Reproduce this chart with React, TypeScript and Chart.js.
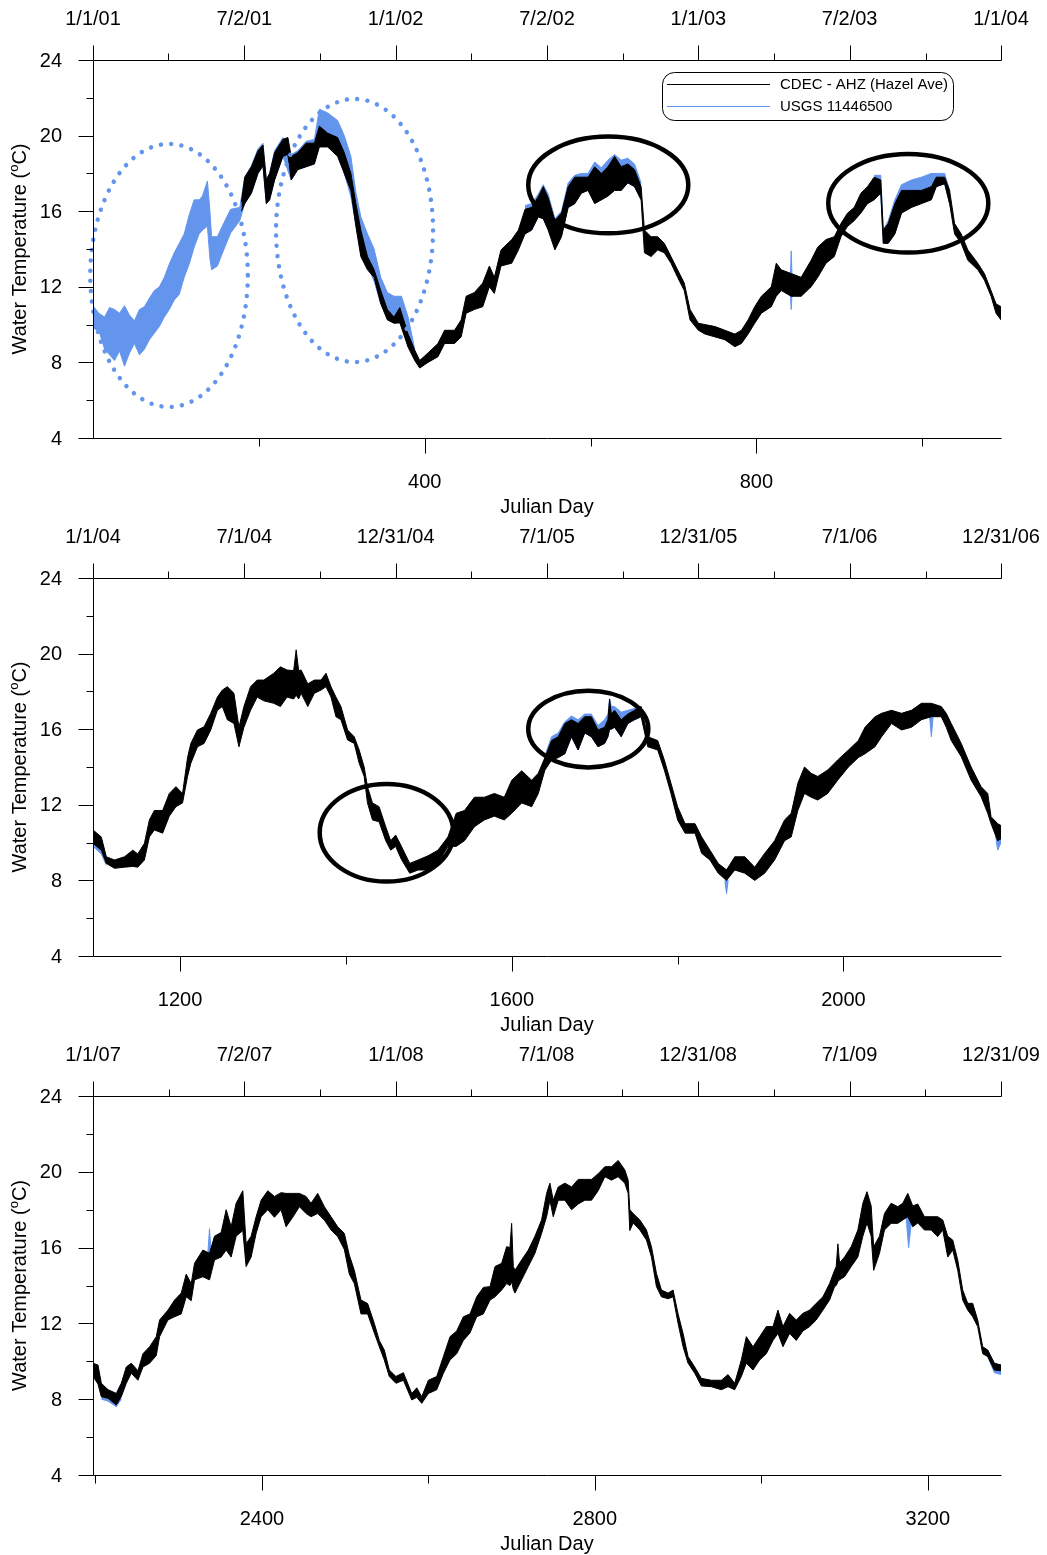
import React, { useEffect, useRef } from 'react';
import { Chart, registerables } from 'chart.js';

Chart.register(...registerables);

const BLUE = '#6495ED';
const FONT = '"Liberation Sans", Arial, sans-serif';

// ---------- DATA: [julianDay, low, high] envelope of the hourly record ----------
const P1_CDEC: [number, number, number][] = [
  [179,16.0,16.5],[183,16.4,17.8],[191,16.95,18.35],[199,18.0,19.2],[205,18.4,19.5],[209,16.4,17.65],[213,16.6,18.0],[219,17.65,19.1],
  [229,18.9,19.8],[235,19.0,19.9],[239,17.65,18.9],[247,18.2,19.1],[257,18.35,19.6],[267,18.5,19.6],[273,19.4,20.5],[283,19.4,20.13],
  [295,18.9,19.9],[303,18.0,19.1],[311,17.1,18.0],[317,15.2,16.4],[323,13.6,15.0],[331,12.9,13.6],[339,12.5,12.9],[347,11.1,11.8],
  [355,10.25,10.8],[363,10.07,10.4],[370,10.1,10.9],[380,8.8,9.5],[388,8.1,8.65],[394,7.7,8.1],[404,8.0,8.5],[416,8.3,9.0],
  [424,9.0,9.7],[436,9.0,9.7],[444,9.35,10.25],[450,10.6,11.5],[460,10.8,11.7],[470,10.95,12.2],[478,12.0,13.1],[484,11.65,12.5],
  [492,13.1,13.95],[505,13.25,14.5],[513,13.95,15.0],[521,14.8,16.1],[529,15.0,16.2],[537,15.7,16.77],[543,15.6,17.3],[549,15.0,16.7],
  [557,13.95,15.5],[565,14.65,15.9],[573,16.2,17.3],[581,16.4,17.8],[589,16.95,17.8],[597,17.1,17.8],[605,16.4,18.35],[613,16.6,18.0],
  [621,16.8,18.35],[629,17.1,18.9],[637,17.1,18.35],[645,17.5,18.5],[653,17.3,18.2],[661,16.6,17.3],[665,13.8,15.0],[673,13.6,14.65],
  [681,13.95,14.65],[689,13.8,14.3],[697,13.25,13.6],[705,12.5,12.9],[713,11.8,12.2],[720,10.25,10.8],[730,9.7,10.07],[738,9.5,10.0],
  [750,9.35,9.9],[762,9.2,9.7],[774,8.83,9.5],[782,9.0,9.7],[790,9.5,10.25],[798,10.07,10.95],[806,10.6,11.5],[818,10.95,12.0],
  [824,11.5,13.25],[830,11.8,12.9],[842,11.5,12.7],[854,11.5,12.5],[866,12.0,13.4],[874,12.5,14.1],[884,13.25,14.5],[894,13.6,14.65],
  [902,14.65,15.35],[910,15.2,15.9],[918,15.5,16.2],[926,15.9,16.95],[934,16.4,17.3],[942,16.6,17.8],[950,16.95,17.65],[953,14.3,15.0],
  [959,14.3,15.35],[967,14.8,16.4],[975,15.9,17.1],[987,16.2,17.1],[999,16.4,17.1],[1011,16.6,17.3],[1017,17.3,17.8],[1027,17.45,17.8],
  [1033,16.4,17.1],[1039,14.8,15.35],[1047,14.3,14.8],[1055,13.4,13.95],[1067,12.9,13.25],[1075,12.35,12.7],[1083,11.5,11.8],[1089,10.6,11.1],
  [1095,10.25,10.95],
];

// USGS record: only the stretches where it shows from under the CDEC trace
const P1_USGS: [number, number, number][][] = [
  [
    [0,9.8,11.0],[7,9.7,10.6],[14,8.7,10.4],[20,8.4,10.9],[26,8.1,10.8],[32,8.6,10.6],[38,7.8,11.0],[44,8.5,10.5],[50,9.0,10.2],
    [56,8.4,10.8],[62,8.7,10.95],[68,9.2,11.4],[74,9.55,11.8],[80,9.9,12.0],[86,10.4,12.5],[92,10.8,13.2],[98,11.3,13.8],[104,11.6,14.3],
    [110,12.5,14.8],[116,13.2,15.8],[122,14.1,16.6],[128,14.8,16.6],[132,15.0,16.8],[138,15.2,17.6],[141,13.5,16.0],[143,12.9,14.65],
    [150,13.1,14.65],[158,14.0,15.4],[166,14.85,16.1],[177,15.5,16.2],[183,16.4,17.8],[191,16.95,18.4],[199,18.0,19.3],[205,18.4,19.6],
    [209,16.4,17.7],[213,16.6,18.0],[219,17.65,19.2],[229,18.9,19.9],[239,17.65,19.0],[247,18.2,19.2],[257,18.35,19.7],[267,18.5,19.8],
    [273,19.6,21.4],[283,19.8,21.2],[295,19.2,20.8],[303,18.0,20.0],[311,16.77,18.9],[317,15.3,17.0],[323,13.95,15.7],[331,13.1,14.8],
    [339,12.3,14.0],[347,11.1,12.5],[355,10.8,11.7],[363,10.1,11.5],[372,10.07,11.5],[380,9.7,10.4],[388,8.1,8.7],
  ],
  [
    [521,14.8,16.3],[529,15.0,16.4],[537,15.7,16.9],[543,15.6,17.4],[549,15.0,16.9],[557,14.0,15.6],[565,14.7,16.0],[573,16.2,17.5],
    [581,16.4,17.9],[589,17.0,18.0],[597,17.1,18.0],[605,16.5,18.6],[613,16.6,18.3],[621,16.8,18.7],[629,17.1,19.0],[637,17.1,18.7],
    [645,17.5,18.8],[653,17.3,18.5],[661,16.6,17.5],
  ],
  [[841,11.6,12.6],[842,10.8,13.9],[843,11.6,12.6]],
  [
    [942,16.6,17.9],[950,17.0,17.9],[953,14.3,15.0],[959,14.3,15.5],[967,14.8,16.6],[975,15.9,17.4],[987,16.2,17.65],[999,16.6,17.8],
    [1011,16.8,18.0],[1017,17.3,18.0],[1027,17.45,18.0],[1033,16.4,17.1],
  ],
];

const P2_CDEC: [number, number, number][] = [
  [1095,9.96,10.67],[1105,9.6,10.3],[1111,8.9,9.25],[1121,8.64,9.08],[1133,8.7,9.25],[1143,8.74,9.6],[1149,8.7,9.4],[1157,9.08,9.96],
  [1163,10.3,11.2],[1169,10.67,11.7],[1179,10.5,11.7],[1187,11.4,12.6],[1195,11.9,12.96],[1203,12.1,12.6],[1209,13.5,14.5],[1213,14.2,15.25],
  [1221,15.07,15.96],[1229,15.25,16.13],[1237,15.96,16.84],[1245,17.0,17.7],[1251,17.2,18.07],[1257,16.5,18.25],[1265,16.3,17.9],[1271,15.07,16.1],
  [1277,16.1,17.2],[1285,17.0,18.25],[1293,17.7,18.6],[1301,17.5,18.6],[1313,17.37,18.96],[1321,17.2,19.3],[1329,17.7,19.13],[1337,17.6,19.1],
  [1340,17.8,20.2],[1343,17.6,19.1],[1346,17.9,19.13],[1354,17.2,18.4],[1362,17.9,18.6],[1370,18.07,18.6],[1376,18.25,18.96],[1382,17.7,18.25],
  [1388,16.66,17.7],[1394,16.5,17.2],[1402,15.43,15.96],[1410,15.25,15.6],[1416,14.2,14.9],[1422,13.5,14.0],[1426,12.1,12.96],[1432,11.2,12.1],
  [1440,11.1,11.9],[1448,10.1,10.84],[1454,9.6,10.1],[1460,9.8,10.4],[1467,9.1,9.8],[1477,8.38,8.9],[1487,8.55,9.08],[1499,8.55,9.3],
  [1511,8.9,9.6],[1523,9.8,10.3],[1533,9.8,11.55],[1543,10.1,11.7],[1555,10.84,12.4],[1567,11.2,12.4],[1579,11.4,12.6],[1591,11.2,12.4],
  [1600,11.55,13.3],[1612,12.1,13.8],[1624,11.9,13.3],[1632,12.6,13.67],[1640,13.84,14.5],[1648,14.37,15.4],[1656,14.5,15.6],[1664,14.7,16.3],
  [1672,15.6,16.5],[1680,14.9,16.3],[1688,15.8,16.66],[1696,15.6,16.66],[1704,15.07,15.96],[1712,15.25,16.1],[1716,15.6,16.5],[1718,16.0,17.6],
  [1720,16.0,16.8],[1724,16.1,17.0],[1732,15.6,16.5],[1740,16.3,16.8],[1748,16.5,17.0],[1756,16.66,17.2],[1764,15.07,15.6],[1776,14.9,15.4],
  [1784,13.84,14.37],[1792,12.6,13.14],[1800,11.2,11.9],[1809,10.5,11.0],[1821,10.5,11.0],[1829,9.43,10.3],[1839,9.08,9.6],[1849,8.38,8.9],
  [1859,8.0,8.55],[1869,8.55,9.25],[1881,8.38,9.25],[1893,8.0,8.7],[1905,8.38,9.43],[1917,9.08,10.1],[1929,10.1,11.2],[1937,10.3,11.55],
  [1945,11.7,13.14],[1953,12.6,14.0],[1961,12.4,13.67],[1969,12.25,13.5],[1981,12.6,13.84],[1993,13.3,14.37],[2006,14.0,14.9],[2018,14.5,15.4],
  [2026,14.7,16.1],[2038,15.07,16.66],[2046,15.6,16.84],[2058,16.3,17.0],[2070,15.96,16.84],[2082,16.1,17.0],[2094,16.5,17.37],[2106,16.66,17.37],
  [2118,16.66,17.2],[2124,16.1,16.84],[2130,15.4,16.3],[2142,14.55,15.25],[2154,13.3,14.0],[2166,12.43,12.96],[2174,11.55,12.6],[2178,11.0,11.37],
  [2186,10.1,11.0],[2190,10.2,10.9],
];

const P2_USGS: [number, number, number][][] = [
  [[1095,9.8,10.5],[1105,9.4,10.2],[1111,8.8,9.25]],
  [
    [1640,13.84,14.6],[1648,14.37,15.6],[1656,14.5,15.8],[1664,14.7,16.4],[1672,15.6,16.7],[1680,14.9,16.5],[1688,15.8,16.8],[1696,15.6,16.8],
    [1704,15.07,16.2],[1712,15.25,16.5],[1716,15.6,16.8],[1718,16.0,17.6],[1720,16.0,17.2],[1724,16.1,17.2],[1732,15.6,16.9],[1740,16.3,17.0],
    [1748,16.5,17.1],[1756,16.66,17.2],
  ],
  [[1857,8.0,8.6],[1859,7.3,8.6],[1861,8.0,8.6]],
  [[2104,16.6,17.3],[2106,15.6,17.3],[2108,16.6,17.3]],
  [[2182,10.8,11.2],[2186,9.6,11.0],[2190,10.0,10.8]],
];

const P3_CDEC: [number, number, number][] = [
  [2197,9.2,9.9],[2203,8.8,9.8],[2207,8.13,8.84],[2215,8.05,8.5],[2225,7.7,8.3],[2231,8.13,8.84],[2237,8.84,9.7],[2243,9.37,9.9],
  [2251,9.0,9.5],[2257,9.7,10.4],[2265,9.9,10.77],[2273,10.3,11.3],[2277,11.3,12.18],[2287,12.18,12.7],[2295,12.35,13.23],[2303,12.5,13.6],
  [2309,13.4,14.6],[2315,13.2,14.1],[2319,14.3,15.17],[2329,14.46,15.87],[2337,14.3,15.7],[2343,15.35,16.6],[2351,15.5,16.8],[2357,15.87,18.0],
  [2363,15.5,17.1],[2369,16.6,18.34],[2377,16.9,19.0],[2381,15.0,16.2],[2387,15.5,16.6],[2393,16.75,17.63],[2399,17.63,18.5],[2407,18.0,19.0],
  [2415,17.6,18.7],[2423,18.0,18.9],[2429,17.1,18.86],[2437,17.6,18.86],[2445,18.16,18.86],[2453,17.8,18.7],[2459,17.63,18.34],[2467,17.8,18.86],
  [2475,17.45,18.16],[2483,16.93,17.63],[2491,16.58,17.1],[2499,15.9,16.75],[2505,14.6,15.6],[2511,14.1,14.8],[2519,12.5,13.23],[2527,12.5,13.05],
  [2535,11.5,12.0],[2541,10.77,11.1],[2547,10.07,10.6],[2553,9.2,9.54],[2561,8.84,9.2],[2570,9.0,9.4],[2580,7.96,8.3],[2586,8.1,8.6],
  [2592,7.78,8.13],[2600,8.3,9.0],[2610,8.5,9.2],[2618,9.37,10.25],[2626,10.07,11.3],[2634,10.4,11.6],[2642,11.1,12.35],[2650,11.5,12.5],
  [2658,12.35,13.4],[2666,12.5,13.9],[2674,13.23,13.94],[2680,13.4,15.0],[2688,13.76,15.17],[2694,14.1,16.05],[2698,14.0,16.0],[2700,14.2,17.28],
  [2702,13.8,15.0],[2704,13.6,14.8],[2712,14.3,15.35],[2720,15.0,15.87],[2728,15.7,16.6],[2736,16.75,17.46],[2742,17.63,18.86],[2746,18.5,19.4],
  [2750,17.63,18.5],[2756,18.5,19.2],[2764,18.5,19.4],[2772,18.0,19.2],[2780,18.3,19.6],[2788,18.5,19.6],[2796,18.5,19.6],[2804,19.0,19.9],
  [2812,19.74,20.27],[2820,19.56,20.27],[2828,19.74,20.6],[2836,19.4,20.1],[2840,18.86,19.56],[2842,16.9,18.0],[2846,17.3,17.8],[2854,16.93,17.46],
  [2862,16.4,16.93],[2868,15.5,16.05],[2874,13.94,14.64],[2880,13.4,13.76],[2888,13.3,13.6],[2894,13.4,13.76],[2900,12.0,12.5],[2906,10.77,11.47],
  [2912,9.9,10.25],[2920,9.37,9.7],[2928,8.7,9.1],[2940,8.66,9.0],[2952,8.5,9.0],[2960,8.66,9.3],[2968,8.5,8.84],[2976,9.2,10.07],
  [2982,9.9,11.3],[2990,9.54,10.77],[2998,10.07,11.3],[3006,10.4,11.83],[3014,11.1,11.83],[3020,11.47,12.7],[3026,10.77,11.83],[3034,11.47,12.53],
  [3042,11.1,12.18],[3050,11.6,12.53],[3058,11.83,12.7],[3066,12.18,13.06],[3074,12.7,13.4],[3082,13.23,14.1],[3088,13.94,14.8],[3090,14.0,15.0],
  [3092,14.2,16.2],[3094,14.3,15.2],[3100,14.46,15.5],[3108,15.0,16.05],[3116,15.5,16.93],[3122,16.6,18.34],[3127,17.3,18.95],[3132,16.6,18.2],
  [3135,14.8,16.05],[3142,15.7,16.6],[3148,16.93,17.8],[3156,17.28,18.34],[3164,17.28,18.16],[3170,17.46,18.34],[3176,17.63,18.86],[3182,17.1,18.2],
  [3188,17.3,18.3],[3196,16.93,17.63],[3204,16.93,17.63],[3212,16.58,17.63],[3218,16.93,17.46],[3224,15.5,16.6],[3230,15.87,16.4],[3236,14.8,15.35],
  [3242,13.23,13.76],[3248,12.7,13.06],[3254,12.35,13.06],[3260,11.83,12.18],[3266,10.4,10.77],[3272,10.25,10.6],[3280,9.54,9.9],[3288,9.5,9.8],
];

const P3_USGS: [number, number, number][][] = [
  [[2207,8.0,8.84],[2215,7.9,8.5],[2225,7.6,8.3],[2231,8.0,8.84]],
  [[2335,14.3,15.7],[2337,14.5,17.0],[2339,14.5,15.7]],
  [[3174,17.6,18.5],[3177,16.0,18.5],[3180,17.2,18.2]],
  [[3272,10.25,10.6],[3280,9.4,9.9],[3288,9.3,9.8]],
];

// ---------- AXES ----------
const Y_MAJOR = [4, 8, 12, 16, 20, 24];
const Y_MINOR = [6, 10, 14, 18, 22];

const P1_RANGE = [0, 1095];
const P2_RANGE = [1095, 2190];
const P3_RANGE = [2197, 3288];

const P1_BOTTOM_MAJOR = [400, 800];
const P1_BOTTOM_MINOR = [200, 600, 1000];
const P2_BOTTOM_MAJOR = [1200, 1600, 2000];
const P2_BOTTOM_MINOR = [1400, 1800];
const P3_BOTTOM_MAJOR = [2400, 2800, 3200];
const P3_BOTTOM_MINOR = [2200, 2600, 3000];

const P1_TOP_DAYS = [0, 182.5, 365, 547.5, 730, 912.5, 1095];
const P1_TOP_LABELS = ['1/1/01', '7/2/01', '1/1/02', '7/2/02', '1/1/03', '7/2/03', '1/1/04'];
const P1_TOP_MINOR = [91, 274, 456, 639, 821, 1004];
const P2_TOP_DAYS = [1095, 1277.5, 1460, 1642.5, 1825, 2007.5, 2190];
const P2_TOP_LABELS = ['1/1/04', '7/1/04', '12/31/04', '7/1/05', '12/31/05', '7/1/06', '12/31/06'];
const P2_TOP_MINOR = [1186, 1369, 1551, 1734, 1916, 2099];
const P3_TOP_DAYS = [2197, 2379, 2561, 2742, 2924, 3106, 3288];
const P3_TOP_LABELS = ['1/1/07', '7/2/07', '1/1/08', '7/1/08', '12/31/08', '7/1/09', '12/31/09'];
const P3_TOP_MINOR = [2288, 2470, 2651, 2833, 3015, 3197];

// ---------- ANNOTATIONS (ellipses: centre day, centre temp, radius days, radius temp) ----------
const P1_DOTTED = [[91.7, 12.6, 95, 6.96], [315.4, 14.98, 94.7, 6.96]];
const P1_SOLID = [[621.4, 17.39, 96.5, 2.56], [983.2, 16.42, 96.5, 2.61]];
const P2_SOLID = [[1449, 10.52, 80.6, 2.58], [1692.3, 16.01, 72.4, 2.03]];

const LEGEND_ITEMS = [
  { label: 'CDEC - AHZ (Hazel Ave)', color: '#000000' },
  { label: 'USGS 11446500', color: BLUE },
];

type Row = [number, number, number];
type Panel = {
  range: number[];
  cdec: Row[];
  usgs: Row[][];
  bMajor: number[];
  bMinor: number[];
  tDays: number[];
  tLabels: string[];
  tMinor: number[];
  dotted: number[][];
  solid: number[][];
  legend: boolean;
  top: number;
  height: number;
};

const PANELS: Panel[] = [
  { range: P1_RANGE, cdec: P1_CDEC, usgs: P1_USGS, bMajor: P1_BOTTOM_MAJOR, bMinor: P1_BOTTOM_MINOR, tDays: P1_TOP_DAYS, tLabels: P1_TOP_LABELS, tMinor: P1_TOP_MINOR, dotted: P1_DOTTED, solid: P1_SOLID, legend: true, top: 0, height: 518 },
  { range: P2_RANGE, cdec: P2_CDEC, usgs: P2_USGS, bMajor: P2_BOTTOM_MAJOR, bMinor: P2_BOTTOM_MINOR, tDays: P2_TOP_DAYS, tLabels: P2_TOP_LABELS, tMinor: P2_TOP_MINOR, dotted: [], solid: P2_SOLID, legend: false, top: 518, height: 518 },
  { range: P3_RANGE, cdec: P3_CDEC, usgs: P3_USGS, bMajor: P3_BOTTOM_MAJOR, bMinor: P3_BOTTOM_MINOR, tDays: P3_TOP_DAYS, tLabels: P3_TOP_LABELS, tMinor: P3_TOP_MINOR, dotted: [], solid: [], legend: false, top: 1036, height: 519 },
];

function makeDecor(p: Panel) {
  return {
    id: 'decor',
    afterDraw(chart: any) {
      const { ctx, chartArea: a, scales } = chart;
      const xs = scales.x;
      const ys = scales.y;
      const L = Math.round(a.left) + 0.5;
      const T = Math.round(a.top) + 0.5;
      const B = Math.round(a.bottom) + 0.5;
      const R = Math.round(a.right) + 0.5;
      ctx.save();

      const drawEll = (e: number[], dotted: boolean) => {
        const cx = xs.getPixelForValue(e[0]);
        const cy = ys.getPixelForValue(e[1]);
        const rx = Math.abs(xs.getPixelForValue(e[0] + e[2]) - cx);
        const ry = Math.abs(ys.getPixelForValue(e[1] + e[3]) - cy);
        ctx.beginPath();
        ctx.ellipse(cx, cy, rx, ry, 0, 0, Math.PI * 2);
        if (dotted) {
          ctx.strokeStyle = BLUE;
          ctx.lineWidth = 4.5;
          ctx.lineCap = 'round';
          ctx.setLineDash([0.01, 10.3]);
        } else {
          ctx.strokeStyle = '#000';
          ctx.lineWidth = 4.5;
          ctx.lineCap = 'butt';
          ctx.setLineDash([]);
        }
        ctx.stroke();
      };
      p.dotted.forEach((e) => drawEll(e, true));
      p.solid.forEach((e) => drawEll(e, false));
      ctx.setLineDash([]);
      ctx.lineCap = 'butt';

      ctx.strokeStyle = '#000';
      ctx.lineWidth = 1;
      ctx.beginPath();
      ctx.moveTo(L, T); ctx.lineTo(L, B);
      ctx.moveTo(L, T); ctx.lineTo(R, T);
      ctx.moveTo(L, B); ctx.lineTo(R, B);
      ctx.stroke();

      ctx.fillStyle = '#000';
      ctx.font = `20px ${FONT}`;

      ctx.beginPath();
      Y_MAJOR.forEach((v) => {
        const py = Math.round(ys.getPixelForValue(v)) + 0.5;
        ctx.moveTo(L - 15, py); ctx.lineTo(L, py);
      });
      Y_MINOR.forEach((v) => {
        const py = Math.round(ys.getPixelForValue(v)) + 0.5;
        ctx.moveTo(L - 7, py); ctx.lineTo(L, py);
      });
      p.bMajor.forEach((v) => {
        const px = Math.round(xs.getPixelForValue(v)) + 0.5;
        ctx.moveTo(px, B); ctx.lineTo(px, B + 15);
      });
      p.bMinor.forEach((v) => {
        const px = Math.round(xs.getPixelForValue(v)) + 0.5;
        ctx.moveTo(px, B); ctx.lineTo(px, B + 8);
      });
      p.tDays.forEach((v) => {
        const px = Math.round(xs.getPixelForValue(v)) + 0.5;
        ctx.moveTo(px, T); ctx.lineTo(px, T - 15);
      });
      p.tMinor.forEach((v) => {
        const px = Math.round(xs.getPixelForValue(v)) + 0.5;
        ctx.moveTo(px, T); ctx.lineTo(px, T - 7);
      });
      ctx.stroke();

      ctx.textAlign = 'right';
      ctx.textBaseline = 'middle';
      Y_MAJOR.forEach((v) => {
        ctx.fillText(String(v), a.left - 31, ys.getPixelForValue(v) + 1);
      });
      ctx.textAlign = 'center';
      p.bMajor.forEach((v) => {
        ctx.fillText(String(v), xs.getPixelForValue(v), a.bottom + 44);
      });
      ctx.fillText('Julian Day', (a.left + a.right) / 2, a.bottom + 69);
      p.tDays.forEach((v, i) => {
        ctx.fillText(p.tLabels[i], xs.getPixelForValue(v), a.top - 41);
      });

      ctx.save();
      ctx.translate(20, (a.top + a.bottom) / 2);
      ctx.rotate(-Math.PI / 2);
      const t1 = 'Water Temperature (';
      const t2 = 'C)';
      ctx.font = `20px ${FONT}`;
      const w1 = ctx.measureText(t1).width;
      const w2 = ctx.measureText(t2).width;
      ctx.font = `13px ${FONT}`;
      const wo = ctx.measureText('o').width;
      let sx = -(w1 + wo + w2) / 2;
      ctx.textAlign = 'left';
      ctx.font = `20px ${FONT}`;
      ctx.fillText(t1, sx, 0);
      sx += w1;
      ctx.font = `13px ${FONT}`;
      ctx.fillText('o', sx, -6);
      sx += wo;
      ctx.font = `20px ${FONT}`;
      ctx.fillText(t2, sx, 0);
      ctx.restore();

      if (p.legend) {
        ctx.beginPath();
        ctx.strokeStyle = '#000';
        ctx.lineWidth = 1;
        (ctx as any).roundRect(662.5, 72.5, 291, 48, 12);
        ctx.fillStyle = '#fff';
        ctx.fill();
        ctx.stroke();
        ctx.font = `15px ${FONT}`;
        ctx.textAlign = 'left';
        ctx.textBaseline = 'middle';
        LEGEND_ITEMS.forEach((it, i) => {
          const yy = 84.5 + i * 22;
          ctx.beginPath();
          ctx.strokeStyle = it.color;
          ctx.moveTo(667, yy); ctx.lineTo(770, yy);
          ctx.stroke();
          ctx.fillStyle = '#000';
          ctx.fillText(it.label, 780, yy);
        });
      }
      ctx.restore();
    },
  };
}

function bandDatasets(rows: Row[], color: string, order: number) {
  const lo = rows.map((r) => ({ x: r[0], y: r[1] }));
  const hi = rows.map((r) => ({ x: r[0], y: r[2] }));
  const common = {
    borderColor: color,
    backgroundColor: color,
    borderWidth: 1,
    pointRadius: 0,
    tension: 0,
    order,
  };
  return [
    { ...common, data: lo, fill: false },
    { ...common, data: hi, fill: '-1' },
  ];
}

function PanelChart({ p }: { p: Panel }) {
  const ref = useRef<HTMLCanvasElement | null>(null);
  useEffect(() => {
    if (!ref.current) return;
    const datasets: any[] = [...bandDatasets(p.cdec, '#000000', 0)];
    p.usgs.forEach((seg) => datasets.push(...bandDatasets(seg, BLUE, 1)));
    const chart = new Chart(ref.current, {
      type: 'line',
      data: { datasets },
      options: {
        responsive: false,
        animation: false,
        devicePixelRatio: 1,
        layout: { padding: { left: 93, right: 46, top: 60, bottom: 80 } },
        scales: {
          x: { type: 'linear', min: p.range[0], max: p.range[1], display: false },
          y: { type: 'linear', min: 4, max: 24, display: false },
        },
        plugins: { legend: { display: false }, tooltip: { enabled: false } },
        events: [],
      } as any,
      plugins: [makeDecor(p)],
    });
    return () => chart.destroy();
  }, [p]);
  return (
    <div style={{ position: 'absolute', left: 0, top: p.top, width: 1047, height: p.height }}>
      <canvas ref={ref} width={1047} height={p.height} style={{ display: 'block' }} />
    </div>
  );
}

export default function App() {
  return (
    <div style={{ position: 'absolute', left: 0, top: 0, width: 1047, height: 1555, background: '#fff' }}>
      {PANELS.map((p, i) => (
        <PanelChart key={i} p={p} />
      ))}
    </div>
  );
}
